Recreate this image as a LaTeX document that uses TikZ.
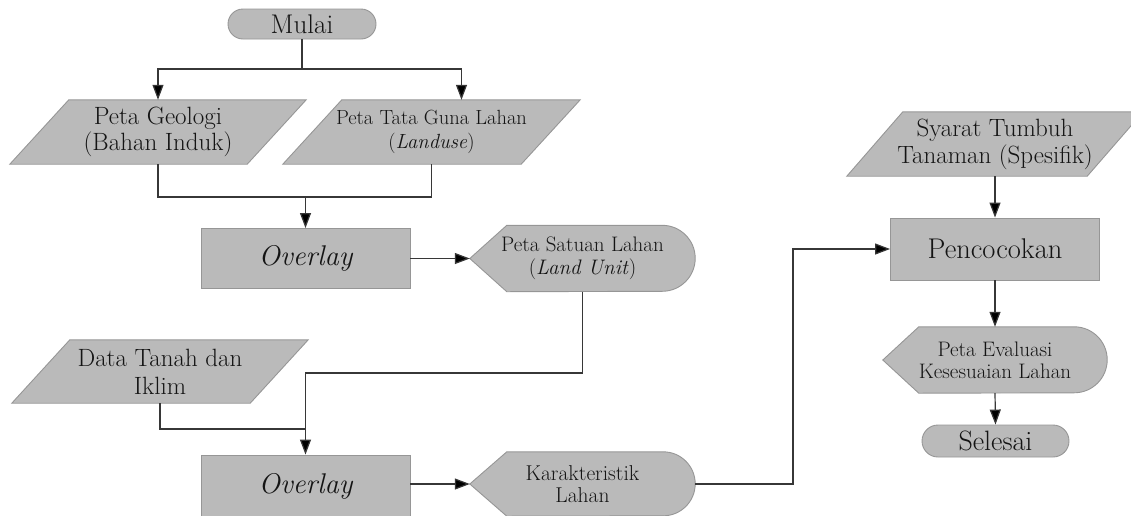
\documentclass[tikz,border=0pt]{standalone}
\usepackage{fontspec}
\usetikzlibrary{arrows.meta,calc}
\definecolor{boxgray}{RGB}{186,186,186}
\definecolor{edgegray}{RGB}{150,150,150}
\definecolor{linegray}{RGB}{55,55,55}
\definecolor{textcol}{RGB}{20,20,20}
\pgfdeclarelayer{bg}
\pgfsetlayers{bg,main}
\newcommand\fsz[2]{\fontsize{#1}{#2}\selectfont}
\tikzset{
  shp/.style={fill=boxgray, draw=edgegray, line width=0.9pt},
  boxnode/.style={shp, rectangle, inner sep=0pt, align=center, text=textcol},
  termnode/.style={shp, rectangle, inner sep=0pt, align=center, text=textcol},
  area/.style={rectangle, inner sep=0pt, align=center, text=textcol},
  conn/.style={draw=linegray, line width=1.2pt},
  arr/.style={conn, -{Triangle[length=15pt,width=11pt,fill=black]}},
}
\newcommand\paraback[2]{%
  \path[shp] (#1.south west) -- ([xshift=-#2pt]#1.south east) -- (#1.north east) -- ([xshift=#2pt]#1.north west) -- cycle;}
\newcommand\dispback[3]{%
  \path[shp] (#1.west) -- ([xshift=#2pt]#1.north west) -- ([xshift=-#3pt]#1.north east)
    arc[start angle=90,end angle=-90,radius=#3pt] -- ([xshift=#2pt]#1.south west) -- cycle;}
\begin{document}
\begin{tikzpicture}[x=1pt,y=1pt]
\path[use as bounding box] (0,0) rectangle (1131,-515);

% terminals
\node[termnode, minimum width=148pt, minimum height=30pt, rounded corners=15pt,
      font=\fsz{27}{30}] (mulai) at (302,-24) {Mulai};
\node[termnode, minimum width=147pt, minimum height=32pt, rounded corners=16pt,
      font=\fsz{28}{31}] (selesai) at (995.5,-441) {Selesai};

% inputs (parallelograms)
\node[area, minimum width=296pt, minimum height=64pt,
      font=\fsz{25}{26}] (geo) at (158,-132) {Peta Geologi\\(Bahan Induk)};
\node[area, minimum width=297pt, minimum height=64pt,
      font=\fsz{20.5}{24}] (tata) at (431.5,-132) {Peta Tata Guna Lahan\\(\textit{Landuse})};
\node[area, minimum width=296pt, minimum height=63pt,
      font=\fsz{25}{28}] (data) at (160,-371.5) {Data Tanah dan\\Iklim};
\node[area, minimum width=296pt, minimum height=64pt,
      font=\fsz{25}{27}] (syarat) at (995,-144) {Syarat Tumbuh\\Tanaman (Spesifik)};

% processes
\node[boxnode, minimum width=209pt, minimum height=60pt,
      font=\fsz{28.5}{30}\itshape] (ov1) at (305.5,-258.5) {Overlay};
\node[boxnode, minimum width=209pt, minimum height=62pt,
      font=\fsz{28.5}{30}\itshape] (ov2) at (305.5,-486) {Overlay};
\node[boxnode, minimum width=209pt, minimum height=62pt,
      font=\fsz{28.5}{30}] (pen) at (995,-249) {Pencocokan};

% displays
\node[area, minimum width=225pt, minimum height=66pt,
      font=\fsz{21}{23}] (sat) at (582.5,-258.5) {Peta Satuan Lahan\\(\textit{Land Unit})};
\node[area, minimum width=225pt, minimum height=64pt,
      font=\fsz{21.5}{22}] (kar) at (582.5,-484) {Karakteristik\\Lahan};
\node[area, minimum width=224pt, minimum height=66pt,
      font=\fsz{21}{22}] (eval) at (995,-360) {Peta Evaluasi\\Kesesuaian Lahan};

\begin{pgfonlayer}{bg}
  \paraback{geo}{59}
  \paraback{tata}{59}
  \paraback{data}{58}
  \paraback{syarat}{56}
  \dispback{sat}{37}{33}
  \dispback{kar}{37}{32}
  \dispback{eval}{36}{33}
\end{pgfonlayer}

% connectors
\coordinate (split) at (302,-69);
\coordinate (join1) at (305.5,-197);
\coordinate (bend2) at (305.5,-373);
\coordinate (join2) at (305.5,-429);
\coordinate (bend3) at (793,-484);

\draw[conn] (mulai.south) -- (split);
\draw[arr] (split) -| (geo.north);
\draw[arr] (split) -| ([xshift=30pt]tata.north);
\draw[conn] (geo.south) |- (join1) -| (tata.south);
\draw[arr] (join1) -- (ov1.north);
\draw[arr] (ov1.east) -- (sat.west);
\draw[arr] (sat.south) |- (bend2) -- (ov2.north);
\draw[conn] (data.south) |- (join2);
\draw[arr] (ov2.east |- kar.west) -- (kar.west);
\draw[arr] (kar.east) -- (bend3) |- (pen.west);
\draw[arr] (syarat.south) -- (pen.north);
\draw[arr] (pen.south) -- (eval.north);
\draw[arr] (eval.south) -- (selesai.north);
\end{tikzpicture}
\end{document}
